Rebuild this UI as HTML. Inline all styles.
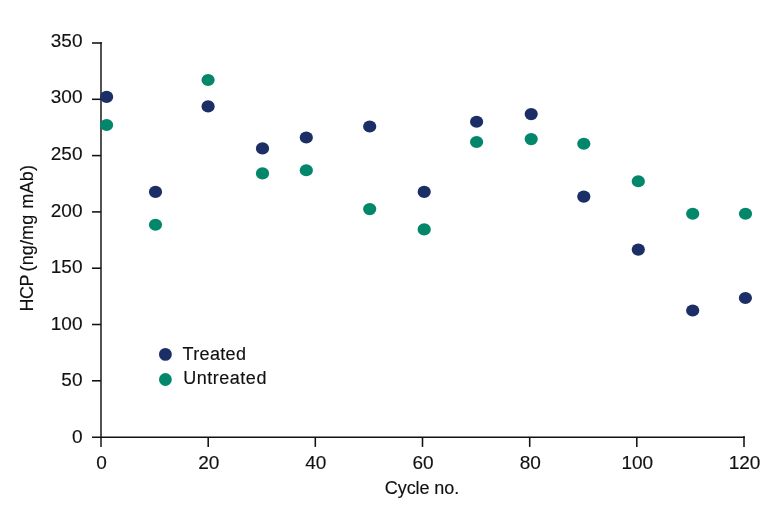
<!DOCTYPE html>
<html>
<head>
<meta charset="utf-8">
<style>
html,body{margin:0;padding:0;background:#fff;}
body{width:783px;height:515px;overflow:hidden;}
svg{display:block;will-change:transform;}
text{font-family:"Liberation Sans",Arial,sans-serif;fill:#111;stroke:#111;stroke-width:0.15px;}
</style>
</head>
<body>
<svg width="783" height="515" viewBox="0 0 783 515">
<g stroke="#111" stroke-width="1.55" fill="none" stroke-linecap="butt">
<!-- y axis -->
<line x1="101" y1="42.15" x2="101" y2="446.9" stroke-width="1.45"/>
<!-- x axis -->
<line x1="92" y1="437.25" x2="744.8" y2="437.25" stroke-width="1.7"/>
<!-- y ticks -->
<line x1="92" y1="43" x2="101.85" y2="43"/>
<line x1="92" y1="99.3" x2="101" y2="99.3"/>
<line x1="92" y1="155.6" x2="101" y2="155.6"/>
<line x1="92" y1="211.9" x2="101" y2="211.9"/>
<line x1="92" y1="268.2" x2="101" y2="268.2"/>
<line x1="92" y1="324.5" x2="101" y2="324.5"/>
<line x1="92" y1="380.8" x2="101" y2="380.8"/>
<!-- x ticks -->
<line x1="208.2" y1="437" x2="208.2" y2="446.9"/>
<line x1="315.3" y1="437" x2="315.3" y2="446.9"/>
<line x1="422.5" y1="437" x2="422.5" y2="446.9"/>
<line x1="529.7" y1="437" x2="529.7" y2="446.9"/>
<line x1="636.8" y1="437" x2="636.8" y2="446.9"/>
<line x1="744" y1="436.3" x2="744" y2="446.9"/>
</g>
<g font-size="19" text-anchor="end">
<text x="82.5" y="46.90">350</text>
<text x="82.5" y="103.45">300</text>
<text x="82.5" y="160.00">250</text>
<text x="82.5" y="216.55">200</text>
<text x="82.5" y="273.10">150</text>
<text x="82.5" y="329.65">100</text>
<text x="82.5" y="386.20">50</text>
<text x="82.5" y="442.75">0</text>
</g>
<g font-size="19" text-anchor="middle">
<text x="101.5" y="468.6">0</text>
<text x="208.7" y="468.6">20</text>
<text x="315.8" y="468.6">40</text>
<text x="423" y="468.6">60</text>
<text x="530.2" y="468.6">80</text>
<text x="637.3" y="468.6">100</text>
<text x="744.5" y="468.6">120</text>
</g>
<text x="422" y="494" font-size="18" text-anchor="middle" textLength="74.3" lengthAdjust="spacing">Cycle no.</text>
<g transform="translate(32.6,237.4) rotate(-90)" font-size="18">
<text x="-74" y="0" textLength="37" lengthAdjust="spacing">HCP</text>
<text x="-34" y="0" textLength="56.6" lengthAdjust="spacing">(ng/mg</text>
<text x="28.7" y="0" textLength="43.6" lengthAdjust="spacing">mAb)</text>
</g>
<!-- Untreated -->
<g fill="#02876b">
<ellipse cx="106.6" cy="124.95" rx="6.6" ry="6.05"/>
<ellipse cx="155.5" cy="224.7" rx="6.6" ry="6.05"/>
<ellipse cx="208.1" cy="79.96" rx="6.6" ry="6.05"/>
<ellipse cx="262.5" cy="173.4" rx="6.6" ry="6.05"/>
<ellipse cx="306.3" cy="170.2" rx="6.6" ry="6.05"/>
<ellipse cx="369.7" cy="209.1" rx="6.6" ry="6.05"/>
<ellipse cx="424.2" cy="229.4" rx="6.6" ry="6.05"/>
<ellipse cx="476.6" cy="142.0" rx="6.6" ry="6.05"/>
<ellipse cx="531.2" cy="139.1" rx="6.6" ry="6.05"/>
<ellipse cx="583.8" cy="143.8" rx="6.6" ry="6.05"/>
<ellipse cx="638.3" cy="181.2" rx="6.6" ry="6.05"/>
<ellipse cx="692.7" cy="213.8" rx="6.6" ry="6.05"/>
<ellipse cx="745.5" cy="213.8" rx="6.6" ry="6.05"/>
<circle cx="165.4" cy="379.5" r="6.4"/>
</g>
<!-- Treated -->
<g fill="#1b2f66">
<ellipse cx="106.6" cy="96.9" rx="6.6" ry="6.05"/>
<ellipse cx="155.5" cy="191.9" rx="6.6" ry="6.05"/>
<ellipse cx="208.1" cy="106.4" rx="6.6" ry="6.05"/>
<ellipse cx="262.5" cy="148.4" rx="6.6" ry="6.05"/>
<ellipse cx="306.3" cy="137.5" rx="6.6" ry="6.05"/>
<ellipse cx="369.7" cy="126.5" rx="6.6" ry="6.05"/>
<ellipse cx="424.2" cy="191.9" rx="6.6" ry="6.05"/>
<ellipse cx="476.6" cy="121.8" rx="6.6" ry="6.05"/>
<ellipse cx="531.2" cy="114.1" rx="6.6" ry="6.05"/>
<ellipse cx="583.8" cy="196.6" rx="6.6" ry="6.05"/>
<ellipse cx="638.3" cy="249.6" rx="6.6" ry="6.05"/>
<ellipse cx="692.7" cy="310.5" rx="6.6" ry="6.05"/>
<ellipse cx="745.4" cy="298" rx="6.6" ry="6.05"/>
<circle cx="165.4" cy="354.4" r="6.4"/>
</g>
<g font-size="18">
<text x="182.6" y="359.7" textLength="63.3" lengthAdjust="spacing">Treated</text>
<text x="183.3" y="384.2" textLength="83.1" lengthAdjust="spacing">Untreated</text>
</g>
</svg>
</body>
</html>
